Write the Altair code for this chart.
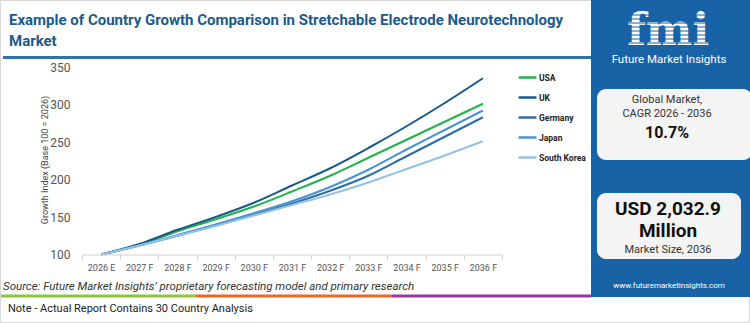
import altair as alt
import pandas as pd

years = ["2026 E", "2027 F", "2028 F", "2029 F", "2030 F", "2031 F",
         "2032 F", "2033 F", "2034 F", "2035 F", "2036 F"]
countries = ["USA", "UK", "Germany", "Japan", "South Korea"]
usa = [100, 113, 131, 147, 164, 184, 205, 229, 253, 277, 301]
uk = [100, 114, 133, 150, 169, 192, 215, 242, 271, 302, 335]
germany = [100, 112, 125, 139, 153, 168, 185, 205, 231, 257, 283]
japan = [100, 112, 126, 140, 155, 171, 190, 213, 240, 266, 292]
south_korea = [100, 112, 125, 138, 152, 166, 180, 196, 214, 232, 251]
colors = ["#22b24c", "#175a8a", "#2d6ea6", "#4a93cf", "#93c2e4"]
y_ticks = [100, 150, 200, 250, 300, 350]

series = {"USA": usa, "UK": uk, "Germany": germany, "Japan": japan, "South Korea": south_korea}
rows = []
for c in countries:
    for yr, v in zip(years, series[c]):
        rows.append({"year": yr, "country": c, "value": v})
df = pd.DataFrame(rows)

L, T = 82, 67  # plot origin in page pixels
W, H = 420, 187.5

one = alt.Data(values=[{"k": 0}])


def rect(x1, x2, y1, y2, color, radius=0, stroke=None):
    kw = dict(color=color, cornerRadius=radius)
    if stroke:
        kw.update(stroke=stroke, strokeWidth=1)
    return alt.Chart(one).mark_rect(**kw).encode(
        x=alt.value(x1 - L), x2=alt.value(x2 - L), y=alt.value(y1 - T), y2=alt.value(y2 - T))


def hline(x1, x2, y, color, width):
    return alt.Chart(one).mark_rule(color=color, strokeWidth=width).encode(
        x=alt.value(x1 - L), x2=alt.value(x2 - L), y=alt.value(y - T))


def txt(s, x, y, size, color="#222", weight="normal", align="left", font="Roboto",
        style="normal", angle=0, baseline="middle"):
    return alt.Chart(one).mark_text(
        text=s, fontSize=size, color=color, fontWeight=weight, align=align, font=font,
        fontStyle=style, angle=angle, baseline=baseline).encode(
        x=alt.value(x - L), y=alt.value(y - T))


blue = "#1763a6"
layers = [
    rect(0.5, 749.5, 0.5, 322.5, "#ffffff", stroke="#d9d9d9"),
    rect(591, 750, 0, 297, blue),
    rect(597, 752, 89, 160, "#f4f4f4", radius=9),
    rect(597, 741, 193, 259, "#f4f4f4", radius=9),
    hline(3, 591, 57.5, "#2f73ad", 3),
    hline(1, 196, 296, "#8cc63f", 3),
    hline(196, 392, 296, "#e8682c", 3),
    hline(392, 591, 296, "#8e3c97", 3),
]

lines = alt.Chart(df).mark_line(strokeWidth=2, interpolate="monotone").encode(
    x=alt.X("year:O", bandPosition=0.5, sort=years,
            scale=alt.Scale(type="band", domain=years, paddingInner=0, paddingOuter=0),
            axis=alt.Axis(title=None, labelAngle=0, labelFontSize=9, labelColor="#555",
                          labelFont="Roboto", tickBand="extent", tickColor="#d0d0d0",
                          domainColor="#d0d0d0", tickSize=5, labelPadding=4, grid=False,
                          zindex=1)),
    y=alt.Y("value:Q", scale=alt.Scale(domain=[100, 350], nice=False, zero=False),
            axis=alt.Axis(title=None, values=y_ticks, labelFontSize=12, labelColor="#555",
                          labelFont="Roboto", ticks=False, domain=False, grid=False,
                          labelPadding=12, zindex=1)),
    color=alt.Color("country:N", scale=alt.Scale(domain=countries, range=colors),
                    legend=alt.Legend(orient="none", legendX=435, legendY=0, title=None,
                                      symbolType="stroke", symbolSize=320,
                                      symbolStrokeWidth=2.5, labelFontSize=8.5,
                                      labelFontWeight="bold", labelFont="Roboto",
                                      labelColor="#222", rowPadding=4, labelOffset=1,
                                      zindex=1)),
    detail="country:N",
)
layers.append(lines)

texts = [
    txt("Example of Country Growth Comparison in Stretchable Electrode Neurotechnology",
        9, 20, 15, "#1a5a8c", "bold"),
    txt("Market", 9, 41, 15, "#1a5a8c", "bold"),
    txt("Growth Index (Base 100 = 2026)", 45, 160, 9, "#444", angle=270, align="center"),
    txt("Source: Future Market Insights\u2019 proprietary forecasting model and primary research",
        3, 287, 11.5, "#333", style="italic"),
    txt("Note - Actual Report Contains 30 Country Analysis", 8, 309, 11, "#222"),
    txt("fmi", 668, 45, 44, "#ffffff", "bold", "center", font="DejaVu Serif",
        baseline="alphabetic"),
]
layers += texts
# stripes across the logo letters
for yy in range(15, 46, 4):
    layers.append(hline(608, 730, yy, blue, 1.2))

layers += [
    txt("Future Market Insights", 669, 60, 11.5, "#ffffff", align="center"),
    txt("Global Market,", 667, 100, 11, "#333", align="center"),
    txt("CAGR 2026 - 2036", 667, 114, 11, "#333", align="center"),
    txt("10.7%", 667, 133, 16, "#111", "bold", "center"),
    txt("USD 2,032.9", 668, 209, 19, "#111", "bold", "center"),
    txt("Million", 668, 231, 19, "#111", "bold", "center"),
    txt("Market Size, 2036", 668, 250, 11, "#333", align="center"),
    txt("www.futuremarketinsights.com", 669, 286, 8, "#ffffff", align="center"),
]

chart = alt.layer(*layers).properties(
    width=W, height=H, autosize="none",
    padding={"left": L, "top": T, "right": 750 - L - W, "bottom": 323 - T - H},
    background="#ffffff",
).configure_view(stroke=None)

chart.save("out.html", embed_options={"renderer": "svg", "actions": False})
